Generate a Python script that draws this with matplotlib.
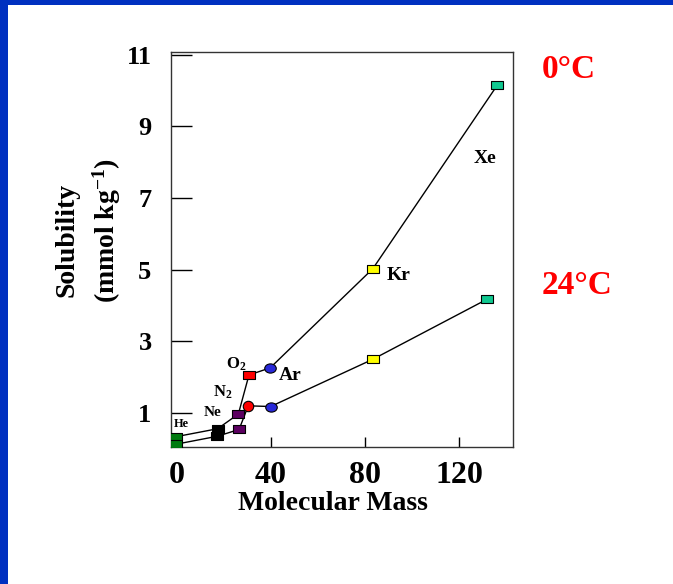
import matplotlib
matplotlib.use("Agg")
import matplotlib.pyplot as plt
from matplotlib.patches import Rectangle
from matplotlib.path import Path
from matplotlib.markers import MarkerStyle
from matplotlib.transforms import Affine2D

plt.rcParams['font.family'] = ['Liberation Serif', 'DejaVu Serif']
plt.rcParams['font.weight'] = 'bold'
plt.rcParams['mathtext.default'] = 'regular'

# data
gases = ["He", "Ne", "N2", "O2", "Ar", "Kr", "Xe"]
mass_0c = [0, 17.5, 26.3, 30.8, 39.8, 83.4, 136.3]
sol_0c = [0.34, 0.56, 0.97, 2.06, 2.26, 5.03, 10.16]
mass_24c = [0, 17.4, 26.6, 30.5, 40.0, 83.4, 132.0]
sol_24c = [0.13, 0.35, 0.54, 1.20, 1.18, 2.50, 4.18]
gas_colors = ["#007a10", "#000000", "#5c0060", "#ff0000", "#2828d8", "#ffff00", "#10c890"]

labels = ["He", "Ne", "N$_2$", "O$_2$", "Ar", "Kr", "Xe"]
label_x = [2.2, 15.5, 19.8, 25.3, 48.2, 94.3, 131.0]
label_y = [0.68, 1.01, 1.58, 2.36, 2.06, 4.83, 8.12]
label_size = [9, 11, 12, 12, 14, 14, 14]

xticks = [0, 40, 80, 120]
yticks = [1, 3, 5, 7, 9, 11]

rect = Path([(-1, -0.7), (1, -0.7), (1, 0.7), (-1, 0.7), (-1, -0.7)],
            [Path.MOVETO, Path.LINETO, Path.LINETO, Path.LINETO, Path.CLOSEPOLY])
ellipse = MarkerStyle('o', transform=Affine2D().scale(1.0, 0.8))

fig = plt.figure(figsize=(6.73, 5.84), dpi=100)
ax = fig.add_axes([171 / 673, 137 / 584, 342 / 673, 395 / 584])

ax.plot(mass_0c, sol_0c, color='black', lw=1.0, zorder=2)
ax.plot(mass_24c, sol_24c, color='black', lw=1.0, zorder=2)

for i, g in enumerate(gases):
    m_up = ellipse if g == "Ar" else rect
    m_lo = ellipse if g == "Ar" else ('o' if g == "O2" else rect)
    ms_lo = 7.5 if g == "O2" else 8.3
    ax.plot(mass_0c[i], sol_0c[i], marker=m_up, ms=8.3, color=gas_colors[i],
            mec='black', mew=0.8, ls='none', zorder=3)
    ax.plot(mass_24c[i], sol_24c[i], marker=m_lo, ms=ms_lo, color=gas_colors[i],
            mec='black', mew=0.8, ls='none', zorder=3)

for t, x, y, s in zip(labels, label_x, label_y, label_size):
    ax.text(x, y, t, fontsize=s, fontweight='bold', ha='center', va='center')

ax.set_xlim(-2.3, 142.9)
ax.set_ylim(0.05, 11.08)
ax.set_xticks(xticks)
ax.set_yticks(yticks)
ax.tick_params(axis='x', direction='in', length=7, width=1, labelsize=23, pad=10)
ax.tick_params(axis='y', direction='in', length=15, width=1, labelsize=19, pad=14)
for lab in ax.get_xticklabels() + ax.get_yticklabels():
    lab.set_fontweight('bold')
for sp in ax.spines.values():
    sp.set_linewidth(1.0)
    sp.set_color('#333333')

fig.text(333 / 673, 1 - 504 / 584, "Molecular Mass", fontsize=20, fontweight='bold',
         ha='center', va='center')
fig.text(67 / 673, 1 - 240 / 584, "Solubility", fontsize=20, fontweight='bold',
         rotation=90, ha='center', va='center')
fig.text(107 / 673, 1 - 230 / 584, "(mmol kg$^{-1}$)", fontsize=20, fontweight='bold',
         rotation=90, ha='center', va='center')

fig.text(542 / 673, 1 - 70 / 584, "0°C", fontsize=24, fontweight='bold',
         color='#ff0000', ha='left', va='center')
fig.text(542 / 673, 1 - 285 / 584, "24°C", fontsize=24, fontweight='bold',
         color='#ff0000', ha='left', va='center')

# blue slide border
fig.add_artist(Rectangle((0, 0), 8 / 673, 1, transform=fig.transFigure,
                         color='#0030c0', lw=0))
fig.add_artist(Rectangle((0, 1 - 5 / 584), 1, 5 / 584, transform=fig.transFigure,
                         color='#0030c0', lw=0))

fig.savefig("out.png", dpi=100)
